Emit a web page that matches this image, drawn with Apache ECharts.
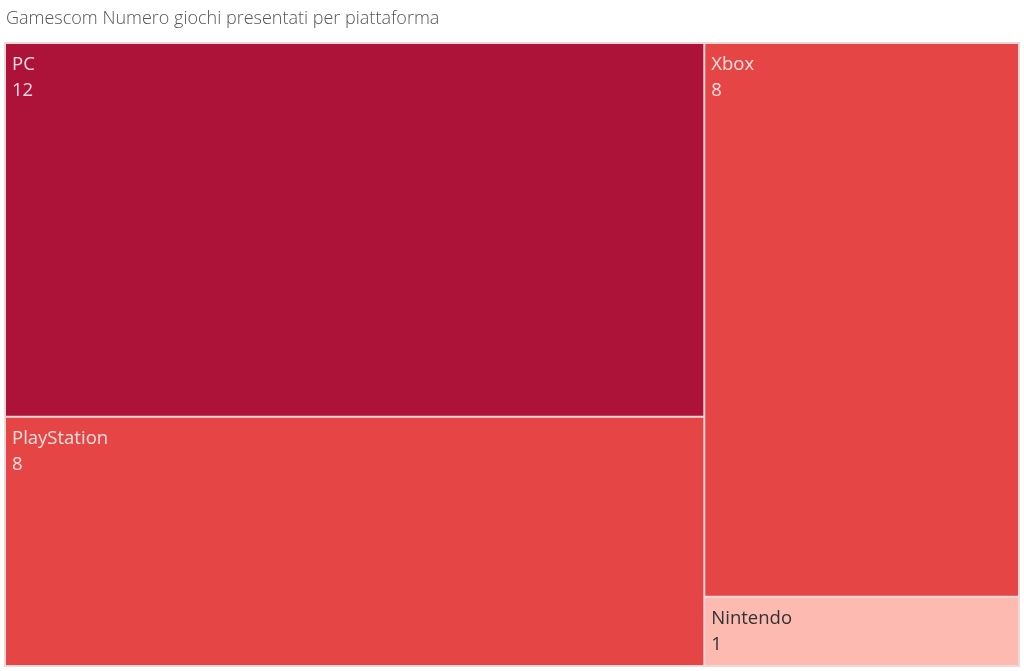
<!DOCTYPE html>
<html><head><meta charset="utf-8">
<script src="https://cdn.jsdelivr.net/npm/echarts@6/dist/echarts.min.js"></script>
<style>html,body{margin:0;padding:0;background:#fff}#c{width:1024px;height:671px}</style>
</head><body><div id="c"></div>
<script>
const platforms = ['PC', 'PlayStation', 'Xbox', 'Nintendo'];
const gameCounts = [12, 8, 8, 1];
const tileColors = ['#AD1238', '#E64545', '#E64545', '#FDBAB0'];
const labelColors = ['#F6DCE2', '#FBE0DE', '#FBE0DE', '#333333'];

const data = platforms.map((p, i) => ({
  name: p,
  value: gameCounts[i],
  itemStyle: { color: tileColors[i] },
  label: { color: labelColors[i] }
}));

const chart = echarts.init(document.getElementById('c'));
chart.setOption({
  animation: false,
  title: {
    text: 'Gamescom Numero giochi presentati per piattaforma',
    left: 1, top: 5,
    textStyle: { fontFamily: 'Open Sans', fontSize: 18, fontWeight: 300, color: '#555' }
  },
  series: [{
    type: 'treemap',
    left: 4, top: 42, right: 4, bottom: 4,
    sort: false,
    roam: false, nodeClick: false,
    breadcrumb: { show: false },
    itemStyle: { borderWidth: 1, borderColor: '#F4D6D6', gapWidth: 0 },
    label: {
      show: true, position: 'insideTopLeft',
      formatter: '{b}\n{c}',
      fontFamily: 'Open Sans', fontSize: 18.5, lineHeight: 26,
      padding: [8, 3, 0, 6]
    },
    data: data
  }]
});
</script></body></html>
